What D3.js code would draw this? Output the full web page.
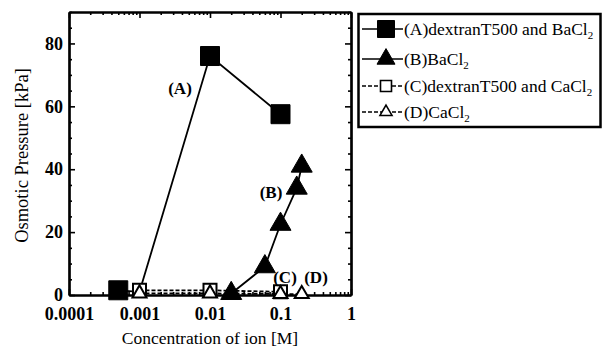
<!DOCTYPE html>
<html>
<head>
<meta charset="utf-8">
<script src="https://cdn.jsdelivr.net/npm/d3@7"></script>
<style>
  body { margin: 0; background: #fff; }
</style>
</head>
<body>
<div id="chart"></div>
<script>
// concentration of ion [M] and osmotic pressure [kPa] per series
const concA = [0.0005, 0.001, 0.01, 0.1];
const presA = [1.5, 1, 76, 57.5];
const hiddenA = [0.001]; // marker covered by (C) in the original
const concB = [0.02, 0.06, 0.1, 0.17, 0.2];
const presB = [0.5, 9, 22.5, 34, 41];
const concC = [0.001, 0.01, 0.1];
const presC = [1.5, 1.5, 1];
const concD = [0.001, 0.01, 0.1, 0.2];
const presD = [0.5, 0.5, 0.3, 0.3];

const seriesNames = ["(A)dextranT500 and BaCl", "(B)BaCl", "(C)dextranT500 and CaCl", "(D)CaCl"];
const seriesTags = ["(A)", "(B)", "(C)", "(D)"];

const xTicks = [0.0001, 0.001, 0.01, 0.1, 1];
const xTickLabels = ["0.0001", "0.001", "0.01", "0.1", "1"];
const yTicks = [0, 20, 40, 60, 80];

const FONT = "'Liberation Serif', 'DejaVu Serif', 'Times New Roman', serif";
const W = 604, H = 349;
const pLeft = 69, pRight = 351, pTop = 12, pBottom = 295;

const svg = d3.select("#chart").append("svg")
    .attr("width", W)
    .attr("height", H)
    .style("display", "block");

const x = d3.scaleLog().domain([1e-4, 1]).range([pLeft, pRight]);
const y = d3.scaleLinear().domain([0, 90]).range([pBottom, pTop]);

// minor ticks
let xMinor = [];
for (let e = -4; e < 0; e++) {
    for (let k = 2; k <= 9; k++) xMinor.push(k * Math.pow(10, e));
}
let yMinor = d3.range(0, 91, 5).filter(v => v % 20 !== 0);

function axis(gen, values, size, labels, tx, ty) {
    let a = gen.tickValues(values).tickSizeInner(size).tickSizeOuter(0).tickPadding(9);
    if (labels) a.tickFormat((d, i) => labels[i]);
    else a.tickFormat("");
    let g = svg.append("g")
        .attr("transform", "translate(" + tx + "," + ty + ")")
        .call(a);
    g.select(".domain").attr("stroke", "#000").attr("stroke-width", 2.2);
    g.selectAll(".tick line").attr("stroke", "#000").attr("stroke-width", 1.6);
    g.selectAll("text")
        .style("font-family", FONT)
        .style("font-size", "18px")
        .style("font-weight", "bold")
        .attr("fill", "#000");
    return g;
}

// bottom
axis(d3.axisBottom(x), xMinor, -3, null, 0, pBottom);
let gx = axis(d3.axisBottom(x), xTicks, -6, xTickLabels, 0, pBottom);
gx.selectAll("text").attr("dy", "0.9em");
// top
axis(d3.axisTop(x), xMinor, -3, null, 0, pTop);
axis(d3.axisTop(x), xTicks, -6, null, 0, pTop);
// left
axis(d3.axisLeft(y), yMinor, -3, null, pLeft, 0);
let gy = axis(d3.axisLeft(y), yTicks, -6, yTicks.map(String), pLeft, 0);
gy.selectAll("text").attr("x", -6);
// right
axis(d3.axisRight(y), yMinor, -3, null, pRight, 0);
axis(d3.axisRight(y), yTicks, -6, null, pRight, 0);

// axis titles
svg.append("text")
    .attr("x", (pLeft + pRight) / 2)
    .attr("y", 344)
    .attr("text-anchor", "middle")
    .style("font-family", FONT)
    .style("font-size", "17.5px")
    .text("Concentration of ion [M]");

svg.append("text")
    .attr("transform", "translate(28," + ((pTop + pBottom) / 2 + 2) + ") rotate(-90)")
    .attr("text-anchor", "middle")
    .style("font-family", FONT)
    .style("font-size", "18.5px")
    .text("Osmotic Pressure [kPa]");

const zip = (cs, ps) => cs.map((c, i) => ({ c: c, p: ps[i] }));
const dataA = zip(concA, presA);
const dataB = zip(concB, presB);
const dataC = zip(concC, presC);
const dataD = zip(concD, presD);

const line = d3.line().x(d => x(d.c)).y(d => y(d.p));

function drawLine(data, dashed) {
    svg.append("path")
        .datum(data)
        .attr("d", line)
        .attr("fill", "none")
        .attr("stroke", "#000")
        .attr("stroke-width", 1.8)
        .attr("stroke-dasharray", dashed ? "4,2" : null);
}

const sq = s => d3.symbol().type(d3.symbolSquare).size(s * s);
const tri = w => d3.symbol().type(d3.symbolTriangle).size(Math.sqrt(3) / 4 * w * w);

function drawMarks(data, sym, filled) {
    svg.append("g").selectAll("path")
        .data(data)
        .enter()
        .append("path")
        .attr("transform", d => "translate(" + x(d.c) + "," + y(d.p) + ")")
        .attr("d", sym)
        .attr("fill", filled ? "#000" : "#fff")
        .attr("stroke", "#000")
        .attr("stroke-width", filled ? 1 : 2);
}

drawLine(dataA, false);
drawLine(dataB, false);
drawLine(dataC, true);
drawLine(dataD, true);

drawMarks(dataA.filter(d => hiddenA.indexOf(d.c) < 0), sq(19), true);
drawMarks(dataB, tri(21), true);
drawMarks(dataC, sq(13), false);
drawMarks(dataD, tri(14), false);

// series tags on the plot
const tagPos = [[180, 94], [271, 198], [285, 283], [316, 283]];
svg.selectAll(".tag")
    .data(seriesTags)
    .enter()
    .append("text")
    .attr("class", "tag")
    .attr("x", (d, i) => tagPos[i][0])
    .attr("y", (d, i) => tagPos[i][1])
    .attr("text-anchor", "middle")
    .style("font-family", FONT)
    .style("font-size", "17px")
    .style("font-weight", "bold")
    .text(d => d);

// legend
const legend = svg.append("g");
legend.append("rect")
    .attr("x", 358.5).attr("y", 14)
    .attr("width", 242).attr("height", 113)
    .attr("fill", "#fff")
    .attr("stroke", "#000")
    .attr("stroke-width", 2.5);

const rowY = [29, 59, 86, 112];
const legSyms = [sq(17), tri(18), sq(11), tri(12)];
seriesNames.forEach((name, i) => {
    let dashed = i >= 2;
    let cy = rowY[i];
    legend.append("line")
        .attr("x1", 362).attr("x2", 403)
        .attr("y1", cy).attr("y2", cy)
        .attr("stroke", "#000")
        .attr("stroke-width", 1.6)
        .attr("stroke-dasharray", dashed ? "4,2" : null);
    legend.append("path")
        .attr("transform", "translate(386," + cy + ")")
        .attr("d", legSyms[i])
        .attr("fill", dashed ? "#fff" : "#000")
        .attr("stroke", "#000")
        .attr("stroke-width", dashed ? 1.6 : 1);
    let t = legend.append("text")
        .attr("x", 404)
        .attr("y", cy + 6)
        .style("font-family", FONT)
        .style("font-size", "17.5px");
    t.append("tspan").text(name);
    t.append("tspan").attr("dy", 4).style("font-size", "11px").text("2");
});
</script>
</body>
</html>
